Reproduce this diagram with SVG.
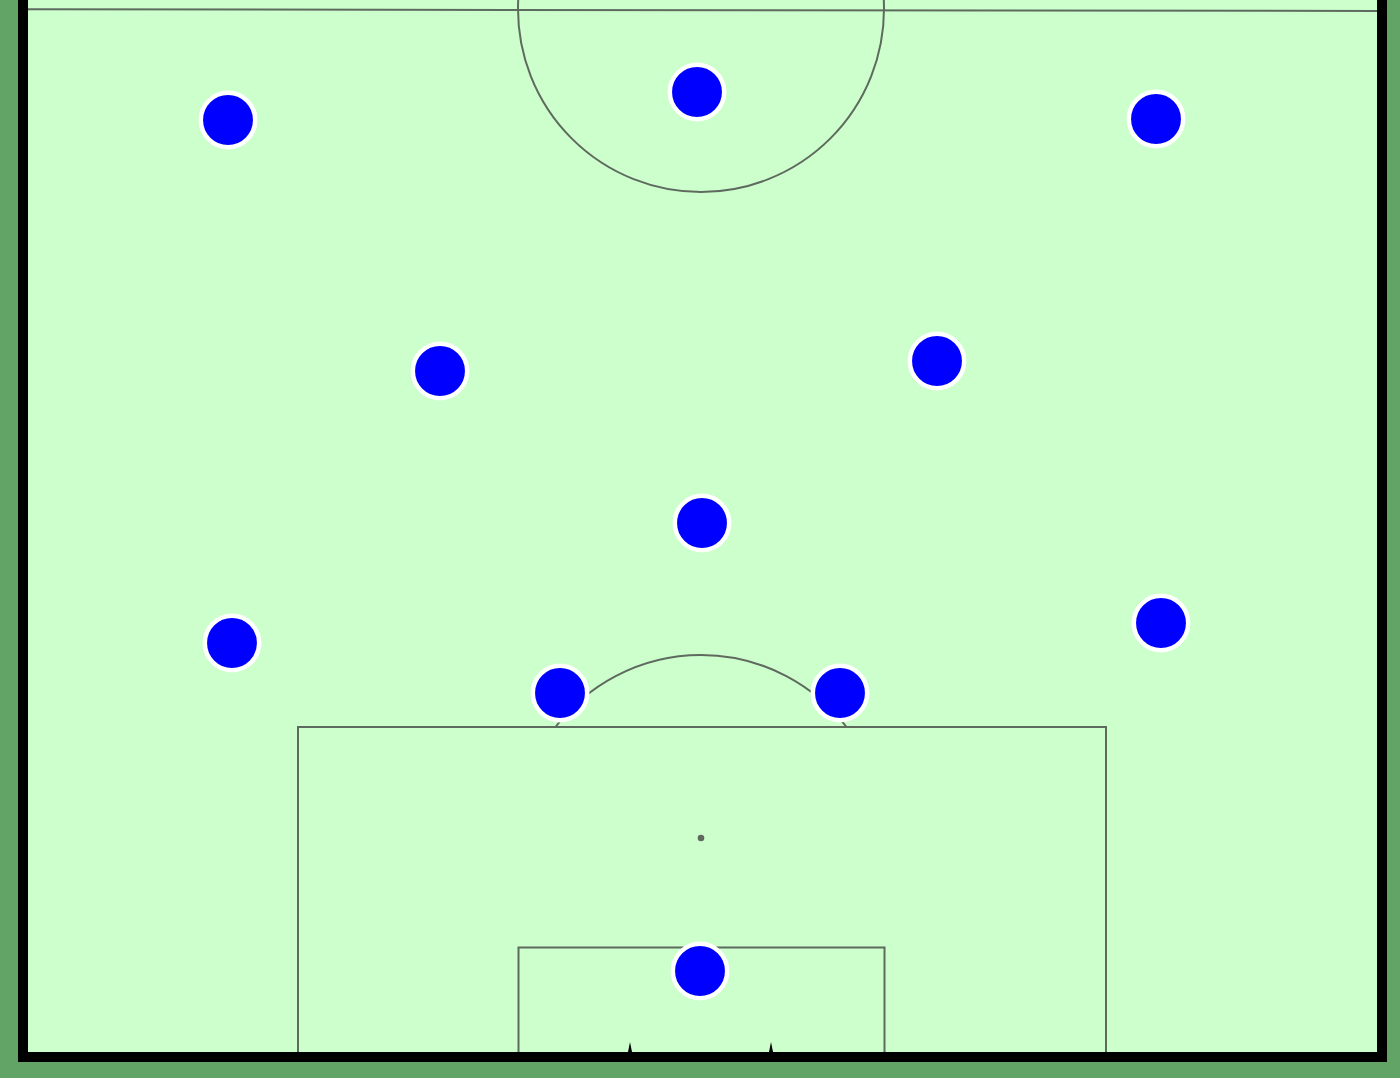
<svg xmlns="http://www.w3.org/2000/svg" width="1400" height="1078" viewBox="0 0 1400 1078">
<style>
.line{fill:none;stroke:#5f6a5f;stroke-width:2}
.player{fill:#0000ff;stroke:#ffffff;stroke-width:4.5}
.post{fill:#000000}
</style>
<rect x="0" y="0" width="1400" height="1078" fill="#62a466"/>
<rect x="23" y="-10" width="1359" height="1067" fill="#ccffcc"/>
<g id="markings">
<line class="line" x1="28" y1="9.3" x2="1377" y2="11"/>
<circle class="line" cx="701" cy="9" r="183"/>
<rect class="line" x="298" y="727" width="808" height="330"/>
<rect class="line" x="518.5" y="947.5" width="366" height="110"/>
<circle cx="701" cy="838" r="3.3" fill="#5f6a5f"/>
<path class="line" d="M555.5,727 A183,183 0 0 1 846.5,727"/>
<path class="post" d="M628,1052 L630,1042 L632,1052 Z"/>
<path class="post" d="M769,1052 L771,1042 L773,1052 Z"/>
</g>
<rect x="23" y="-10" width="1359" height="1067" fill="none" stroke="#000000" stroke-width="10"/>
<g id="connectors"></g>
<g id="p1"><circle class="player" cx="228" cy="120" r="27.2"/></g>
<g id="p2"><circle class="player" cx="697" cy="92" r="27.2"/></g>
<g id="p3"><circle class="player" cx="1156" cy="119" r="27.2"/></g>
<g id="p4"><circle class="player" cx="440" cy="371" r="27.2"/></g>
<g id="p5"><circle class="player" cx="937" cy="361" r="27.2"/></g>
<g id="p6"><circle class="player" cx="702" cy="523" r="27.2"/></g>
<g id="p7"><circle class="player" cx="232" cy="643" r="27.2"/></g>
<g id="p8"><circle class="player" cx="1161" cy="623" r="27.2"/></g>
<g id="p9"><circle class="player" cx="560" cy="693" r="27.2"/></g>
<g id="p10"><circle class="player" cx="840" cy="693" r="27.2"/></g>
<g id="p11"><circle class="player" cx="700" cy="971" r="27.2"/></g>
</svg>
